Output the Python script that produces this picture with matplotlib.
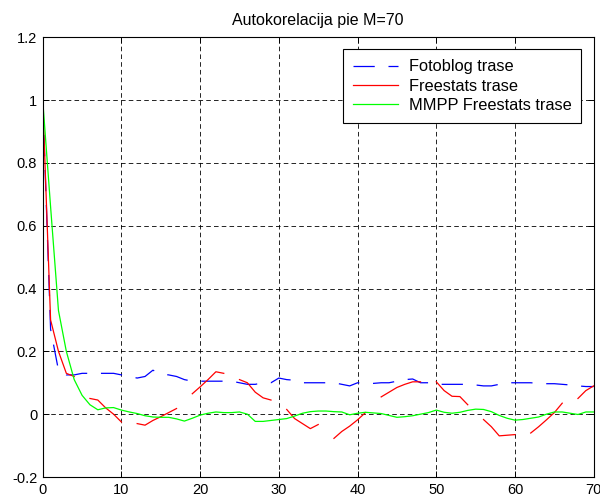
import numpy as np
import matplotlib
matplotlib.use('Agg')
import matplotlib.pyplot as plt

plt.rcParams['font.family'] = ['Liberation Sans', 'DejaVu Sans']

# lags 0..70
lags = np.arange(0, 71)

fotoblog = [1.0, 0.27, 0.14, 0.125, 0.125, 0.13, 0.13, 0.13, 0.13, 0.13,
            0.125, 0.12, 0.115, 0.12, 0.14, 0.128, 0.125, 0.12, 0.11, 0.105,
            0.105, 0.105, 0.105, 0.105, 0.105, 0.1, 0.095, 0.095, 0.1, 0.1,
            0.115, 0.11, 0.108, 0.1, 0.1, 0.1, 0.1, 0.1, 0.095, 0.09,
            0.1, 0.098, 0.098, 0.1, 0.1, 0.105, 0.11, 0.112, 0.1, 0.1,
            0.095, 0.095, 0.095, 0.095, 0.095, 0.093, 0.09, 0.09, 0.095, 0.1,
            0.1, 0.1, 0.1, 0.098, 0.097, 0.097, 0.095, 0.093, 0.09, 0.088,
            0.088]

nan = np.nan
freestats = [1.0, 0.3, 0.2, 0.13, 0.12, nan, 0.05, 0.045, 0.02, 0.0,
             -0.025, nan, -0.03, -0.035, -0.02, -0.008, 0.005, 0.018, nan, 0.065,
             0.087, 0.11, 0.135, 0.13, nan, 0.11, 0.1, 0.07, 0.052, 0.045,
             nan, 0.015, -0.014, -0.03, -0.046, -0.033, nan, -0.077, -0.055, -0.038,
             -0.018, 0.005, nan, 0.055, 0.07, 0.085, 0.095, 0.103, 0.103, nan,
             0.103, 0.075, 0.057, 0.056, 0.03, nan, -0.017, -0.04, -0.069, -0.067,
             -0.065, nan, -0.06, -0.04, -0.018, 0.005, 0.035, nan, 0.05, 0.075,
             0.09]

mmpp = [1.0, 0.66, 0.33, 0.2, 0.11, 0.06, 0.03, 0.014, 0.02, 0.021,
        0.013, 0.007, 0.002, -0.005, -0.009, -0.01, -0.01, -0.015, -0.022, -0.013,
        -0.003, 0.003, 0.007, 0.005, 0.005, 0.007, 0.0, -0.023, -0.023, -0.02,
        -0.017, -0.014, -0.006, 0.003, 0.008, 0.01, 0.01, 0.008, 0.007, -0.002,
        0.003, 0.006, 0.004, 0.002, -0.004, -0.01, -0.008, -0.005, 0.0, 0.005,
        0.013, 0.006, 0.003, 0.006, 0.012, 0.016, 0.015, 0.008, -0.004, -0.013,
        -0.019, -0.017, -0.013, -0.009, 0.0, 0.007, 0.007, 0.003, -0.001, 0.007,
        0.007]

fig = plt.figure(figsize=(6.0, 4.96), dpi=100)
ax = fig.add_axes([0.0712, 0.0383, 0.9183, 0.8867])

ax.plot(lags, fotoblog, color='#0000ff', lw=0.9, dashes=(17, 11), label='Fotoblog trase')
ax.plot(lags, freestats, color='#ff0000', lw=0.9, label='Freestats trase')
ax.plot(lags, mmpp, color='#00ff00', lw=0.9, label='MMPP Freestats trase')

ax.set_xlim(0, 70)
ax.set_ylim(-0.2, 1.2)
ax.set_xticks(np.arange(0, 71, 10))
ax.set_yticks(np.arange(-0.2, 1.21, 0.2))
ax.set_yticklabels(['-0.2', '0', '0.2', '0.4', '0.6', '0.8', '1', '1.2'])

ax.grid(True, color='black', linestyle=(0, (5.5, 3.8)), lw=0.6)
ax.tick_params(direction='in', length=4.5, width=0.7, top=True, right=True,
               labelsize=10.5, pad=4)
for s in ax.spines.values():
    s.set_linewidth(0.8)

ax.set_title('Autokorelacija pie M=70', fontsize=11.5, pad=9)

leg = ax.legend(loc='upper right', fontsize=11.8, fancybox=False, framealpha=1,
                edgecolor='black', handlelength=2.75, handletextpad=0.67,
                labelspacing=0.27, borderpad=0.6, borderaxespad=0.75)
leg.get_frame().set_linewidth(0.8)

plt.savefig('out.png', dpi=100)
